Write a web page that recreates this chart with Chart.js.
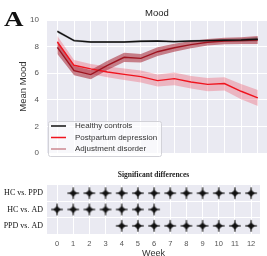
<!DOCTYPE html>
<html>
<head>
<meta charset="utf-8">
<script src="https://cdn.jsdelivr.net/npm/chart.js@4/dist/chart.umd.min.js"></script>
<style>
  body { margin: 0; width: 267px; height: 256px; overflow: hidden; background: #fff; position: relative; }
  #panel { position: absolute; left: 4px; top: 9px; font: bold 20px/20px "Liberation Serif", serif; color: #111;
           transform: scaleX(1.35); transform-origin: left top; }
  #moodChart { position: absolute; left: 0; top: 0; }
  #sigChart { position: absolute; left: 0; top: 165px; }
</style>
</head>
<body>
<canvas id="moodChart" width="267" height="166"></canvas>
<canvas id="sigChart" width="267" height="95"></canvas>
<div id="panel">A</div>
<script>
// weeks after baseline
var weeks = [0, 1, 2, 3, 4, 5, 6, 7, 8, 9, 10, 11, 12];
var seriesNames = ['Healthy controls', 'Postpartum depression', 'Adjustment disorder'];

// mean mood per week
var hcMean  = [9.15, 8.45, 8.35, 8.35, 8.35, 8.40, 8.42, 8.38, 8.42, 8.45, 8.48, 8.50, 8.55];
var hcLow   = [9.05, 8.37, 8.27, 8.27, 8.28, 8.32, 8.34, 8.30, 8.34, 8.37, 8.38, 8.38, 8.40];
var hcHigh  = [9.25, 8.53, 8.43, 8.43, 8.43, 8.48, 8.50, 8.46, 8.50, 8.53, 8.58, 8.62, 8.70];

var ppdMean = [8.35, 6.60, 6.33, 6.10, 5.92, 5.75, 5.45, 5.60, 5.35, 5.17, 5.23, 4.65, 4.15];
var ppdLow  = [7.90, 6.20, 5.95, 5.70, 5.50, 5.30, 5.00, 5.10, 4.85, 4.65, 4.70, 4.05, 3.55];
var ppdHigh = [8.80, 7.00, 6.70, 6.50, 6.35, 6.20, 5.90, 6.05, 5.80, 5.65, 5.70, 5.20, 4.75];

var adMean  = [7.95, 6.20, 5.90, 6.60, 7.20, 7.12, 7.62, 7.92, 8.15, 8.33, 8.42, 8.45, 8.50];
var adLow   = [7.45, 5.85, 5.55, 6.25, 6.85, 6.80, 7.30, 7.62, 7.88, 8.08, 8.18, 8.20, 8.20];
var adHigh  = [8.45, 6.55, 6.25, 6.95, 7.55, 7.45, 7.95, 8.22, 8.42, 8.58, 8.66, 8.70, 8.80];

var yTicks = [0, 2, 4, 6, 8, 10];

// weeks with a significant difference for each comparison
var comparisons = ['HC vs. PPD', 'HC vs. AD', 'PPD vs. AD'];
var sigHcPpd = [1, 2, 3, 4, 5, 6, 7, 8, 9, 10, 11, 12];
var sigHcAd  = [0, 1, 2, 3, 4, 5, 6];
var sigPpdAd = [4, 5, 6, 7, 8, 9, 10, 11, 12];

var lineColors   = ['#111111', '#f0141e', '#9e1420'];
var bandColors   = ['rgba(0,0,0,0.28)', 'rgba(240,60,80,0.30)', 'rgba(165,35,50,0.55)'];
var legendColors = ['#111111', '#f0141e', '#cc8a92'];

var BG = '#eaeaf2';
var sans = '"Liberation Sans", Arial, sans-serif';
var serif = '"Liberation Serif", "Times New Roman", serif';

function pts(arr) {
    return arr.map(function(v, i) { return { x: weeks[i], y: v }; });
}

// plot background
var bgPlugin = {
    id: 'bg',
    beforeDraw: function(chart) {
        var a = chart.chartArea, c = chart.ctx;
        c.save();
        c.fillStyle = BG;
        c.fillRect(a.left, a.top, a.right - a.left, a.bottom - a.top);
        c.restore();
    }
};

// centred title over plot area
function titlePlugin(text, font, y) {
    return {
        id: 'ttl',
        afterDraw: function(chart) {
            var a = chart.chartArea, c = chart.ctx;
            c.save();
            c.font = font;
            c.fillStyle = '#222';
            c.textAlign = 'center';
            c.textBaseline = 'middle';
            c.fillText(text, (a.left + a.right) / 2, y);
            c.restore();
        }
    };
}

var legendPlugin = {
    id: 'lg',
    afterDraw: function(chart) {
        var c = chart.ctx;
        var x = 48.5, y = 121.5, w = 113, h = 35;
        c.save();
        c.fillStyle = 'rgba(255,255,255,0.65)';
        c.strokeStyle = '#d2d2d8';
        c.lineWidth = 1;
        c.beginPath();
        c.roundRect(x, y, w, h, 2);
        c.fill();
        c.stroke();
        c.font = '8px ' + sans;
        c.textBaseline = 'middle';
        for (var i = 0; i < seriesNames.length; i++) {
            var ry = 126 + i * 11.5;
            c.strokeStyle = legendColors[i];
            c.lineWidth = 1.5;
            c.beginPath();
            c.moveTo(51, ry);
            c.lineTo(66, ry);
            c.stroke();
            c.fillStyle = '#333';
            c.fillText(seriesNames[i], 75, ry);
        }
        c.restore();
    }
};

function lineDs(data, color) {
    return { data: pts(data), borderColor: color, borderWidth: 1.4, pointRadius: 0, fill: false, tension: 0 };
}
function bandDs(data, fillTarget, color) {
    return { data: pts(data), borderWidth: 0, borderColor: 'transparent', pointRadius: 0, tension: 0,
             fill: fillTarget === null ? false : { target: fillTarget }, backgroundColor: color };
}

new Chart(document.getElementById('moodChart'), {
    type: 'line',
    data: {
        datasets: [
            lineDs(hcMean, lineColors[0]),
            lineDs(adMean, lineColors[2]),
            lineDs(ppdMean, lineColors[1]),
            bandDs(hcLow, null, bandColors[0]),
            bandDs(hcHigh, 3, bandColors[0]),
            bandDs(adLow, null, bandColors[2]),
            bandDs(adHigh, 5, bandColors[2]),
            bandDs(ppdLow, null, bandColors[1]),
            bandDs(ppdHigh, 7, bandColors[1])
        ]
    },
    options: {
        responsive: false,
        animation: false,
        events: [],
        layout: { padding: { left: 14, top: 20, right: 0, bottom: 6 } },
        plugins: { legend: { display: false }, tooltip: { enabled: false } },
        scales: {
            x: {
                type: 'linear', min: -0.62, max: 12.55,
                ticks: { display: false, stepSize: 1, includeBounds: false },
                grid: { color: '#ffffff', lineWidth: 1, drawTicks: false },
                border: { display: false },
                afterFit: function(s) { s.height = 0; }
            },
            y: {
                min: 0, max: 10,
                afterBuildTicks: function(s) { s.ticks = yTicks.map(function(v) { return { value: v }; }); },
                ticks: { color: '#555', font: { family: sans, size: 8 }, padding: 8 },
                grid: { color: '#ffffff', lineWidth: 1, drawTicks: false },
                border: { display: false },
                title: { display: true, text: 'Mean Mood', color: '#333', font: { family: sans, size: 9.5 }, padding: { top: 4 } },
                afterFit: function(s) { s.width = 33; }
            }
        }
    },
    plugins: [bgPlugin, legendPlugin, titlePlugin('Mood', '9.5px ' + sans, 13.5)]
});

// four-point star marker with thin tapering arms
function makeStar(r) {
    var cv = document.createElement('canvas');
    var s = Math.ceil(2 * r + 2);
    cv.width = s; cv.height = s;
    var g = cv.getContext('2d');
    var m = s / 2, k = 0.15;
    g.fillStyle = '#111';
    g.strokeStyle = '#111';
    g.lineWidth = 0.5;
    g.beginPath();
    g.moveTo(m, m - r);
    g.quadraticCurveTo(m + k, m - k, m + r, m);
    g.quadraticCurveTo(m + k, m + k, m, m + r);
    g.quadraticCurveTo(m - k, m + k, m - r, m);
    g.quadraticCurveTo(m - k, m - k, m, m - r);
    g.fill();
    g.stroke();
    return cv;
}
var star = makeStar(6);

function sigDs(list, label) {
    return { data: list.map(function(w) { return { x: w, y: label }; }),
             pointStyle: star, pointRadius: 6, showLine: false };
}

new Chart(document.getElementById('sigChart'), {
    type: 'scatter',
    data: {
        datasets: [
            sigDs(sigHcPpd, comparisons[0]),
            sigDs(sigHcAd, comparisons[1]),
            sigDs(sigPpdAd, comparisons[2])
        ]
    },
    options: {
        responsive: false,
        animation: false,
        events: [],
        layout: { padding: { left: 0, top: 20, right: 0, bottom: 0 } },
        plugins: { legend: { display: false }, tooltip: { enabled: false } },
        scales: {
            x: {
                type: 'linear', min: -0.62, max: 12.55,
                ticks: { stepSize: 1, includeBounds: false, color: '#555', font: { family: sans, size: 7.5 }, padding: 5 },
                grid: { color: '#ffffff', lineWidth: 1, drawTicks: false },
                border: { display: false },
                title: { display: true, text: 'Week', color: '#333', font: { family: sans, size: 9 }, padding: { top: 0, bottom: 0.8 } },
                afterFit: function(s) { s.height = 26; }
            },
            y: {
                type: 'category', labels: comparisons, offset: true,
                ticks: { color: '#111', font: { family: serif, size: 8 }, padding: 4 },
                grid: { color: '#ffffff', lineWidth: 1, drawTicks: false, offset: true },
                border: { display: false },
                afterFit: function(s) { s.width = 47; }
            }
        }
    },
    plugins: [bgPlugin, titlePlugin('Significant differences', 'bold 7.5px ' + serif, 10)]
});
</script>
</body>
</html>
